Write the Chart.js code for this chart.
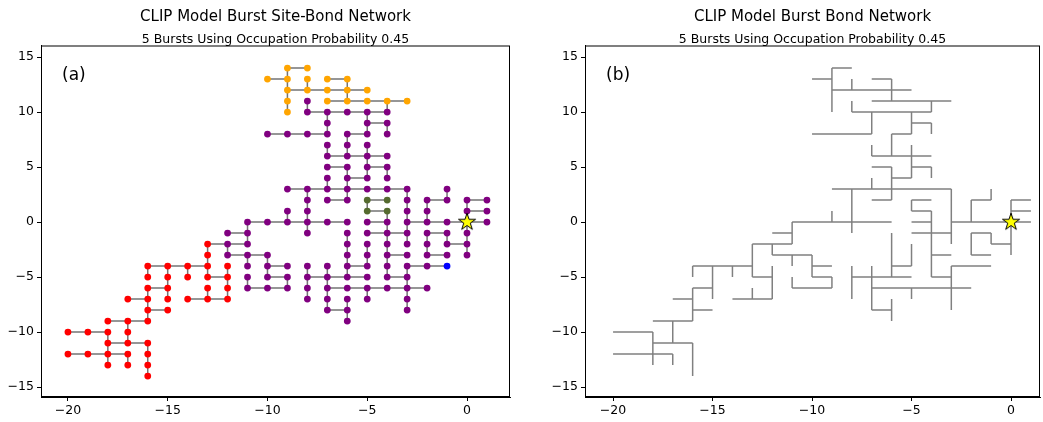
<!DOCTYPE html>
<html>
<head>
<meta charset="utf-8">
<script src="https://cdn.jsdelivr.net/npm/chart.js@4.4.1/dist/chart.umd.min.js"></script>
<style>
  html, body { margin: 0; padding: 0; background: #fff; overflow: hidden; }
  #wrap { position: relative; width: 1043px; height: 422px; overflow: hidden; }
  canvas { position: absolute; top: 0; }
  #siteBond { left: 0; }
  #bondOnly { left: 540px; }
</style>
</head>
<body>
<div id="wrap">
  <canvas id="siteBond" width="521" height="422"></canvas>
  <canvas id="bondOnly" width="513" height="422"></canvas>
</div>
<script>
const xTicks = [-20, -15, -10, -5, 0];
const yTicks = [-15, -10, -5, 0, 5, 10, 15];

// bonds: horizontal [y, xStart, xEnd], vertical [x, yStart, yEnd]
const hBonds = [
  [14, -9, -8],
  [13, -10, -9], [13, -7, -6],
  [12, -9, -5],
  [11, -7, -3],
  [10, -8, -4],
  [9, -5, -4],
  [8, -10, -7], [8, -6, -5],
  [6, -7, -4],
  [5, -7, -6], [5, -5, -4],
  [4, -6, -5],
  [3, -9, -3],
  [2, -7, -6], [2, -5, -4], [2, -2, -1], [2, 0, 1],
  [1, -5, -4], [1, 0, 1],
  [0, -11, -6], [0, -5, -4], [0, -3, 1],
  [-1, -12, -11], [-1, -5, -3], [-1, -2, -1],
  [-2, -13, -11], [-2, -1, 0],
  [-3, -12, -10], [-3, -4, -3], [-3, -2, -1],
  [-4, -16, -13], [-4, -10, -9], [-4, -6, -5], [-4, -3, -1],
  [-5, -13, -12], [-5, -10, -9], [-5, -8, -5], [-5, -4, -3],
  [-6, -16, -15], [-6, -11, -9], [-6, -7, -2],
  [-7, -17, -16], [-7, -14, -12],
  [-8, -16, -15], [-8, -7, -6],
  [-9, -18, -16],
  [-10, -20, -18],
  [-11, -18, -16],
  [-12, -20, -17],
];

const vBonds = [
  [-9, 14, 10], [-9, 1, 0], [-9, -5, -6],
  [-8, 13, 12], [-8, 11, 10], [-8, 3, -1], [-8, -4, -7],
  [-7, 10, 8], [-7, 7, 6], [-7, 4, 3], [-7, -4, -8],
  [-6, 13, 11], [-6, 8, 6], [-6, 5, 2], [-6, -1, -5], [-6, -7, -9],
  [-5, 10, 8], [-5, 7, 4], [-5, 2, 1], [-5, -2, -4], [-5, -6, -7],
  [-4, 11, 10], [-4, 9, 8], [-4, 5, 4], [-4, 1, -5],
  [-3, 3, -2], [-3, -4, -8],
  [-2, 2, 0], [-2, -1, -3],
  [-1, 3, 2], [-1, -1, -2],
  [0, 2, -3],
  [-10, -3, -5],
  [-11, 0, -2], [-11, -3, -4], [-11, -5, -6],
  [-12, -2, -3], [-12, -4, -7],
  [-13, -2, -5], [-13, -6, -7],
  [-14, -4, -5],
  [-15, -4, -7],
  [-16, -4, -5], [-16, -6, -9], [-16, -11, -14],
  [-17, -9, -11], [-17, -12, -13],
  [-18, -10, -13],
];

// sites per burst, rows of [y, [x...]]
const orangeSites = [
  [14, [-9, -8]],
  [13, [-10, -9, -8, -7, -6]],
  [12, [-9, -8, -7, -6, -5]],
  [11, [-9, -7, -6, -5, -4, -3]],
  [10, [-9]],
];

const purpleSites = [
  [11, [-8]],
  [10, [-8, -7, -6, -5, -4]],
  [9, [-7, -5, -4]],
  [8, [-10, -9, -8, -7, -6, -5, -4]],
  [7, [-7, -6, -5]],
  [6, [-7, -6, -5, -4]],
  [5, [-7, -6, -5, -4]],
  [4, [-7, -6, -5, -4]],
  [3, [-9, -8, -7, -6, -5, -4, -3, -1]],
  [2, [-8, -7, -6, -3, -2, -1, 0, 1]],
  [1, [-9, -8, -3, -2, 0, 1]],
  [0, [-11, -10, -9, -8, -7, -6, -5, -4, -3, -2, -1, 0, 1]],
  [-1, [-12, -11, -8, -6, -5, -4, -3, -2, -1, 0]],
  [-2, [-12, -11, -6, -5, -4, -3, -2, -1, 0]],
  [-3, [-12, -11, -10, -6, -5, -4, -3, -2, -1, 0]],
  [-4, [-11, -10, -9, -8, -7, -6, -5, -4, -3, -2]],
  [-5, [-11, -10, -9, -8, -7, -6, -5, -4, -3]],
  [-6, [-11, -10, -9, -8, -7, -6, -5, -4, -3, -2]],
  [-7, [-8, -7, -6, -5, -3]],
  [-8, [-7, -6, -3]],
  [-9, [-6]],
];

const oliveSites = [
  [2, [-5, -4]],
  [1, [-5, -4]],
];

const blueSites = [
  [-4, [-1]],
];

const redSites = [
  [-2, [-13]],
  [-3, [-13]],
  [-4, [-16, -15, -14, -13, -12]],
  [-5, [-16, -15, -14, -13, -12]],
  [-6, [-16, -15, -13, -12]],
  [-7, [-17, -16, -15, -14, -13, -12]],
  [-8, [-16, -15]],
  [-9, [-18, -17, -16]],
  [-10, [-20, -19, -18, -17]],
  [-11, [-18, -17, -16]],
  [-12, [-20, -19, -18, -17, -16]],
  [-13, [-18, -17, -16]],
  [-14, [-16]],
];

const seedSite = [{ x: 0, y: 0 }];

const toPoints = (rows) =>
  rows.flatMap(([y, xs]) => xs.map((x) => ({ x, y })));

// one line dataset, segments split by null points
const bondPath = () => {
  const pts = [];
  hBonds.forEach(([y, x0, x1]) => {
    pts.push({ x: x0, y }, { x: x1, y }, { x: x1, y: null });
  });
  vBonds.forEach(([x, y0, y1]) => {
    pts.push({ x, y: y0 }, { x, y: y1 }, { x, y: null });
  });
  return pts;
};

const makeStar = (r) => {
  const size = Math.ceil(r * 2 + 4);
  const c = document.createElement("canvas");
  c.width = size;
  c.height = size;
  const ctx = c.getContext("2d");
  ctx.beginPath();
  for (let i = 0; i < 10; i++) {
    const rad = i % 2 === 0 ? r : r * 0.382;
    const a = -Math.PI / 2 + (i * Math.PI) / 5;
    const px = size / 2 + rad * Math.cos(a);
    const py = size / 2 + rad * Math.sin(a);
    if (i === 0) ctx.moveTo(px, py);
    else ctx.lineTo(px, py);
  }
  ctx.closePath();
  ctx.fillStyle = "#ffff00";
  ctx.fill();
  ctx.strokeStyle = "#000";
  ctx.lineWidth = 1;
  ctx.stroke();
  return c;
};
const starImg = makeStar(9);

const fmt = (v) => (v < 0 ? "\u2212" + Math.abs(v) : String(v));
const tickFont = { family: "'DejaVu Sans'", size: 12.5 };

// box round the plot and the panel letter
const framePlugin = {
  id: "frame",
  afterDraw(chart, args, opts) {
    const { ctx, chartArea: a } = chart;
    ctx.save();
    ctx.strokeStyle = "#000";
    ctx.lineWidth = 1;
    ctx.strokeRect(a.left + 0.5, a.top + 0.5, a.right - a.left - 1, a.bottom - a.top - 1);
    ctx.fillStyle = "#000";
    ctx.font = "17px 'DejaVu Sans'";
    ctx.textBaseline = "middle";
    ctx.fillText(opts.label, a.left + 21, a.top + 30);
    ctx.restore();
  },
};

const makeChart = (canvasId, cfg) => {
  const seedSet = {
    type: "scatter",
    data: seedSite,
    pointStyle: starImg,
    pointRadius: 9,
    order: 0,
  };
  const bondSet = {
    type: "line",
    data: bondPath(),
    showLine: true,
    spanGaps: false,
    borderColor: cfg.bondColor,
    borderWidth: 1.5,
    pointRadius: 0,
    fill: false,
    order: 5,
  };
  const siteSets = cfg.sites.map(([rows, color]) => ({
    type: "scatter",
    data: toPoints(rows),
    backgroundColor: color,
    borderWidth: 0,
    pointRadius: 3.4,
    order: 2,
  }));

  return new Chart(document.getElementById(canvasId), {
    type: "scatter",
    data: { datasets: [seedSet, ...siteSets, bondSet] },
    options: {
      responsive: false,
      animation: false,
      devicePixelRatio: 1,
      layout: { padding: { left: 0, right: cfg.padRight, top: 0, bottom: 0 } },
      plugins: {
        legend: { display: false },
        tooltip: { enabled: false },
        title: {
          display: true,
          text: cfg.title,
          fullSize: false,
          color: "#000",
          font: { family: "'DejaVu Sans'", size: 15, weight: "normal", lineHeight: 1 },
          padding: { top: 10, bottom: 0 },
        },
        subtitle: {
          display: true,
          text: "5 Bursts Using Occupation Probability 0.45",
          fullSize: false,
          color: "#000",
          font: { family: "'DejaVu Sans'", size: 12.5, weight: "normal", lineHeight: 1 },
          padding: { top: 8, bottom: 0 },
        },
        frame: { label: cfg.label },
      },
      scales: {
        x: {
          type: "linear",
          min: cfg.xMin,
          max: cfg.xMax,
          afterBuildTicks: (axis) => {
            axis.ticks = xTicks.map((v) => ({ value: v }));
          },
          afterFit: (axis) => {
            axis.height = 25;
          },
          grid: { drawOnChartArea: false, tickLength: 4, color: "#000" },
          border: { color: "#000" },
          ticks: { color: "#000", font: tickFont, padding: 2, autoSkip: false, maxRotation: 0, callback: fmt },
        },
        y: {
          type: "linear",
          min: -15.9,
          max: 16.05,
          afterBuildTicks: (axis) => {
            axis.ticks = yTicks.map((v) => ({ value: v }));
          },
          afterFit: (axis) => {
            axis.width = cfg.yWidth;
          },
          grid: { drawOnChartArea: false, tickLength: 4, color: "#000" },
          border: { color: "#000" },
          ticks: { color: "#000", font: tickFont, padding: 3, autoSkip: false, callback: fmt },
        },
      },
    },
    plugins: [framePlugin],
  });
};

makeChart("siteBond", {
  title: "CLIP Model Burst Site-Bond Network",
  label: "(a)",
  xMin: -21.35,
  xMax: 2.155,
  yWidth: 41,
  padRight: 11,
  bondColor: "rgba(90,90,90,0.85)",
  sites: [
    [purpleSites, "#800080"],
    [orangeSites, "#ffa500"],
    [redSites, "#ff0000"],
    [oliveSites, "#556b2f"],
    [blueSites, "#0000ff"],
  ],
});

makeChart("bondOnly", {
  title: "CLIP Model Burst Bond Network",
  label: "(b)",
  xMin: -21.41,
  xMax: 1.457,
  yWidth: 45,
  padRight: 13,
  bondColor: "#808080",
  sites: [],
});
</script>
</body>
</html>
